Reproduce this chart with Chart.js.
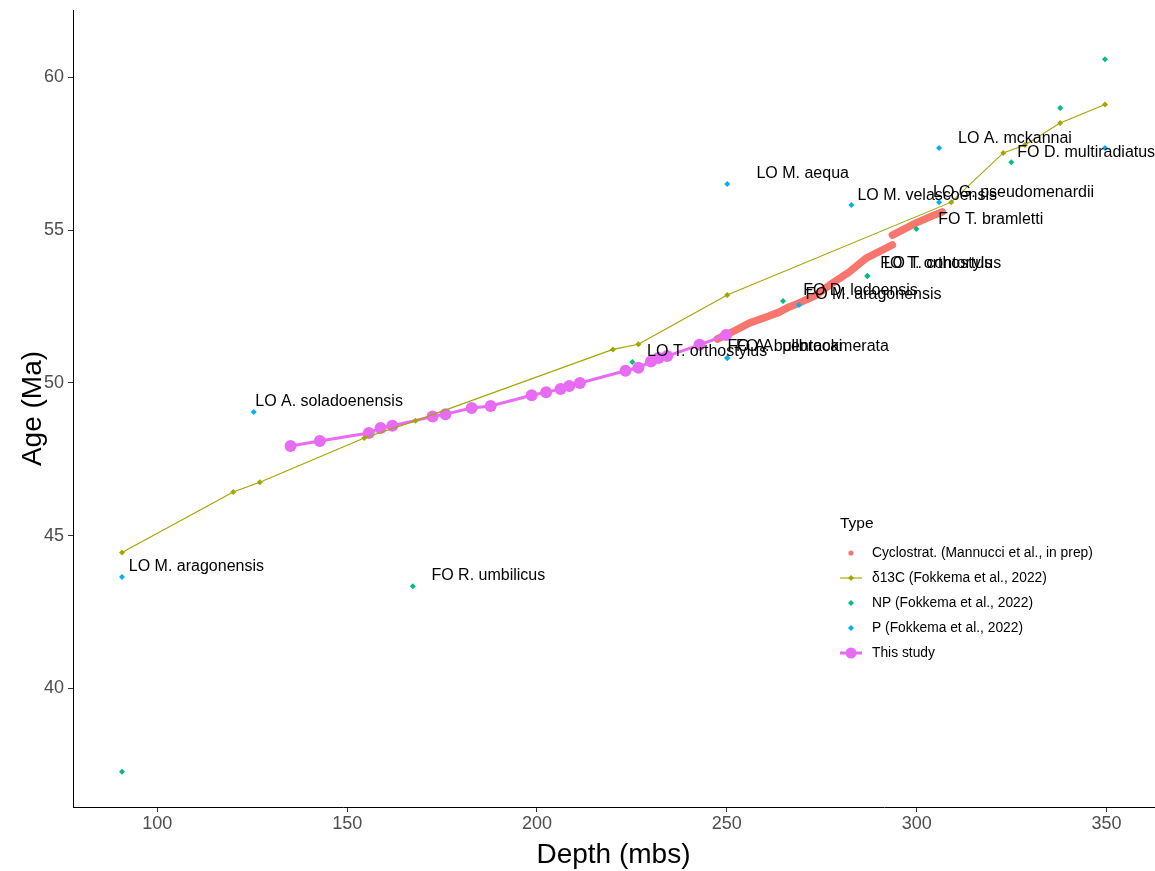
<!DOCTYPE html>
<html>
<head>
<meta charset="utf-8">
<script src="https://cdn.jsdelivr.net/npm/chart.js@4.4.1/dist/chart.umd.min.js"></script>
<style>
  html, body { margin: 0; padding: 0; background: #ffffff; }
  #c { display: block; }
</style>
</head>
<body>
<canvas id="c" width="1155" height="871"></canvas>
<script>
// Axis ticks
const tickDepth = [100, 150, 200, 250, 300, 350];
const tickAge = [40, 45, 50, 55, 60];

// Series names (legend order)
const seriesNames = [
  'Cyclostrat. (Mannucci et al., in prep)',
  'δ13C (Fokkema et al., 2022)',
  'NP (Fokkema et al., 2022)',
  'P (Fokkema et al., 2022)',
  'This study'
];
const seriesColors = ['#F8766D', '#A3A500', '#00BF7D', '#00B0F6', '#E76BF3'];

// Cyclostratigraphy (null age = break between the two segments)
const cycloDepth = [247.5, 251.4, 255.9, 260.4, 263.8, 266.4, 269.1, 273.6, 277.8, 282.2, 286.7, 290.9, 293.6, 293.6, 293.6, 299.9, 304.1, 306.7];
const cycloAge   = [51.44, 51.67, 51.96, 52.16, 52.32, 52.49, 52.62, 52.88, 53.27, 53.63, 54.09, 54.35, 54.52, null, 54.84, 55.24, 55.47, 55.6];

// δ13C tie points
const d13cDepth = [90.7, 120, 127, 154.5, 168, 220, 226.7, 250.1, 309.1, 322.8, 328.5, 337.8, 349.6];
const d13cAge   = [44.45, 46.43, 46.75, 48.2, 48.76, 51.1, 51.27, 52.88, 55.92, 57.53, 57.79, 58.51, 59.12];

// Calcareous nannofossil datums
const npDepth = [90.7, 167.3, 225.1, 264.8, 287, 287, 299.9, 324.9, 337.8, 349.6];
const npAge   = [37.27, 43.35, 50.69, 52.68, 53.5, 53.5, 55.04, 57.23, 59.0, 60.6];

// Planktonic foraminifera datums
const pDepth = [90.7, 125.4, 250.1, 250.1, 250.1, 269, 282.8, 305.9, 305.9, 349.6];
const pAge   = [43.65, 49.05, 50.82, 50.82, 56.51, 52.55, 55.83, 55.92, 57.69, 57.69];

// This study
const studyDepth = [135.1, 142.8, 155.7, 158.8, 161.9, 172.5, 175.9, 182.8, 187.8, 198.6, 202.4, 206.2, 208.5, 211.3, 223.3, 226.7, 230, 232, 234.3, 242.8, 249.8];
const studyAge   = [47.94, 48.1, 48.36, 48.53, 48.6, 48.9, 48.98, 49.18, 49.25, 49.6, 49.7, 49.8, 49.9, 50.0, 50.4, 50.5, 50.7, 50.82, 50.88, 51.25, 51.57];

// Datum labels, anchored at their left edge
const eventLabel = [
  'LO M. aragonensis', 'FO R. umbilicus', 'LO A. soladoenensis', 'LO T. orthostylus',
  'FO A. bullbrooki', 'FO A. pentacamerata', 'LO M. aequa', 'LO M. velascoensis',
  'LO G. pseudomenardii', 'FO T. bramletti', 'LO A. mckannai', 'FO D. multiradiatus',
  'FO D. lodoensis', 'FO M. aragonensis', 'FO T. orthostylus', 'LO T. contortus'
];
const eventLabelDepth = [92.5, 172.2, 125.8, 229.0, 250.2, 252.4, 257.8, 284.4, 304.3, 305.7, 310.9, 326.5, 270.1, 270.7, 290.4, 291.3];
const eventLabelAge   = [43.98, 43.68, 49.39, 51.02, 51.19, 51.19, 56.86, 56.15, 56.24, 55.34, 57.99, 57.54, 53.02, 52.9, 53.9, 53.9];

const pts = (xs, ys) => xs.map((x, i) => ({ x: x, y: ys[i] }));

const FONT = '"Liberation Sans", Arial, sans-serif';

const labelPlugin = {
  id: 'datumLabels',
  afterDatasetsDraw(chart) {
    const { ctx, scales } = chart;
    ctx.save();
    ctx.font = '16px ' + FONT;
    ctx.fillStyle = '#000000';
    ctx.textAlign = 'left';
    ctx.textBaseline = 'middle';
    eventLabel.forEach((t, i) => {
      ctx.fillText(t, scales.x.getPixelForValue(eventLabelDepth[i]), scales.y.getPixelForValue(eventLabelAge[i]));
    });
    ctx.restore();
  }
};

function diamond(ctx, x, y, r, color) {
  ctx.fillStyle = color;
  ctx.beginPath();
  ctx.moveTo(x, y - r); ctx.lineTo(x + r, y); ctx.lineTo(x, y + r); ctx.lineTo(x - r, y);
  ctx.closePath(); ctx.fill();
}

const legendPlugin = {
  id: 'typeLegend',
  afterDraw(chart) {
    const ctx = chart.ctx;
    ctx.save();
    ctx.textAlign = 'left';
    ctx.textBaseline = 'middle';
    ctx.fillStyle = '#000000';
    ctx.font = '15.5px ' + FONT;
    ctx.fillText('Type', 840, 524);
    const kx = 851, tx = 872, y0 = 553, dy = 25;
    ctx.font = '13.8px ' + FONT;
    seriesNames.forEach((name, i) => {
      const y = y0 + i * dy;
      const c = seriesColors[i];
      if (i === 0) {
        ctx.fillStyle = c; ctx.beginPath(); ctx.arc(kx, y, 2.6, 0, Math.PI * 2); ctx.fill();
      } else if (i === 1) {
        ctx.strokeStyle = c; ctx.lineWidth = 1.1;
        ctx.beginPath(); ctx.moveTo(kx - 11, y); ctx.lineTo(kx + 11, y); ctx.stroke();
        diamond(ctx, kx, y, 3, c);
      } else if (i === 4) {
        ctx.strokeStyle = c; ctx.lineWidth = 3;
        ctx.beginPath(); ctx.moveTo(kx - 11, y); ctx.lineTo(kx + 11, y); ctx.stroke();
        ctx.fillStyle = c; ctx.beginPath(); ctx.arc(kx, y, 5.5, 0, Math.PI * 2); ctx.fill();
      } else {
        diamond(ctx, kx, y, 3, c);
      }
      ctx.fillStyle = '#000000';
      ctx.fillText(name, tx, y);
    });
    ctx.restore();
  }
};

// Scales keep a fixed box and no extra label padding, so the panel fills the canvas edge to edge
function fixX(s) { s.height = 64; s.paddingLeft = 0; s.paddingRight = 0; s.paddingTop = 0; s.paddingBottom = 0; }
function fixY(s) { s.width = 73; s.paddingLeft = 0; s.paddingRight = 0; s.paddingTop = 0; s.paddingBottom = 0; }

new Chart(document.getElementById('c'), {
  type: 'scatter',
  data: {
    datasets: [
      {
        label: seriesNames[3], data: pts(pDepth, pAge), order: 1,
        backgroundColor: seriesColors[3], borderColor: seriesColors[3],
        pointStyle: 'rectRot', pointRadius: 3, pointBorderWidth: 0, showLine: false
      },
      {
        label: seriesNames[2], data: pts(npDepth, npAge), order: 2,
        backgroundColor: seriesColors[2], borderColor: seriesColors[2],
        pointStyle: 'rectRot', pointRadius: 3, pointBorderWidth: 0, showLine: false
      },
      {
        label: seriesNames[1], data: pts(d13cDepth, d13cAge), order: 3,
        backgroundColor: seriesColors[1], borderColor: seriesColors[1],
        pointStyle: 'rectRot', pointRadius: 3, pointBorderWidth: 0,
        showLine: true, borderWidth: 1.1
      },
      {
        label: seriesNames[4], data: pts(studyDepth, studyAge), order: 4,
        backgroundColor: seriesColors[4], borderColor: seriesColors[4],
        pointStyle: 'circle', pointRadius: 6, pointBorderWidth: 0,
        showLine: true, borderWidth: 3
      },
      {
        label: seriesNames[0], data: pts(cycloDepth, cycloAge), order: 5,
        backgroundColor: seriesColors[0], borderColor: seriesColors[0],
        pointRadius: 0, showLine: true, spanGaps: false, borderWidth: 7.5,
        borderCapStyle: 'round', borderJoinStyle: 'round'
      }
    ]
  },
  options: {
    responsive: false,
    animation: false,
    devicePixelRatio: 1,
    layout: { autoPadding: false, padding: { top: 10, right: 1, left: 0, bottom: 0 } },
    plugins: { legend: { display: false }, tooltip: { enabled: false } },
    elements: { line: { tension: 0 } },
    scales: {
      x: {
        type: 'linear', min: 77.8, max: 362.5,
        afterBuildTicks: s => { s.ticks = tickDepth.map(v => ({ value: v })); },
        afterFit: fixX,
        grid: { display: true, drawOnChartArea: false, drawTicks: true, tickLength: 5, color: '#333333', tickWidth: 1 },
        border: { display: true, color: '#000000', width: 1 },
        ticks: { color: '#4D4D4D', font: { family: FONT, size: 18 }, padding: 1, maxRotation: 0 },
        title: { display: true, text: 'Depth (mbs)', color: '#000000', font: { family: FONT, size: 28, lineHeight: 1.1 }, padding: { top: 0, bottom: 0 } }
      },
      y: {
        type: 'linear', min: 36.12, max: 62.21,
        afterBuildTicks: s => { s.ticks = tickAge.map(v => ({ value: v })); },
        afterFit: fixY,
        grid: { display: true, drawOnChartArea: false, drawTicks: true, tickLength: 5, color: '#333333', tickWidth: 1 },
        border: { display: true, color: '#000000', width: 1 },
        ticks: { color: '#4D4D4D', font: { family: FONT, size: 18 }, padding: 4 },
        title: { display: true, text: 'Age (Ma)', color: '#000000', font: { family: FONT, size: 28 }, padding: { top: 16, bottom: 0 } }
      }
    }
  },
  plugins: [labelPlugin, legendPlugin]
});
</script>
</body>
</html>
